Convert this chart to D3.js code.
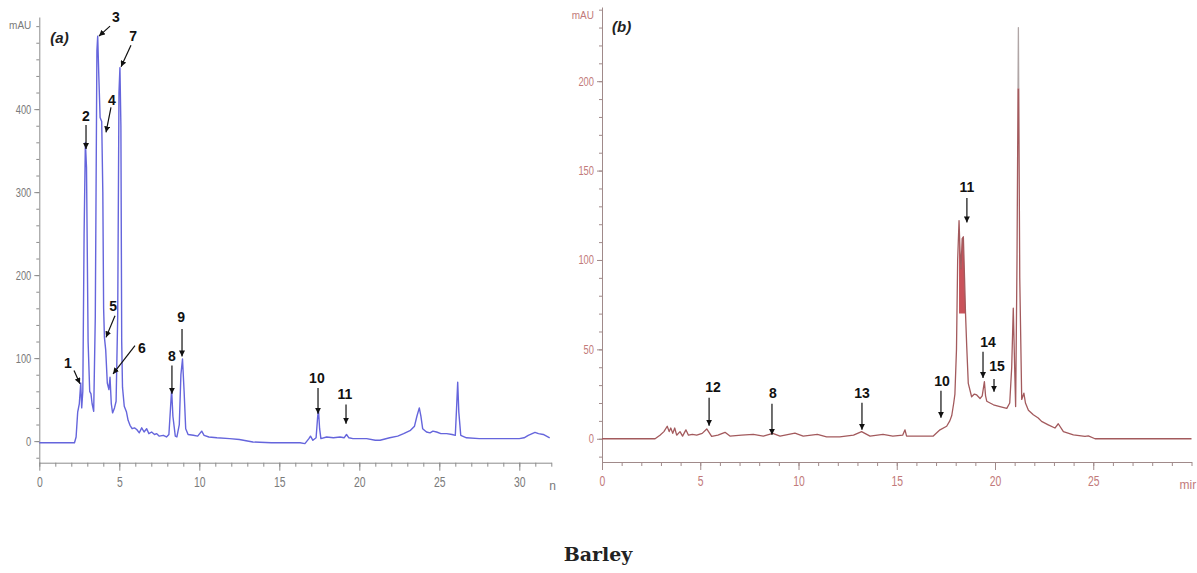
<!DOCTYPE html>
<html>
<head>
<meta charset="utf-8">
<script src="https://d3js.org/d3.v7.min.js"></script>
<style>
body { margin: 0; background: #fff; }
.tick text { font-family: "Liberation Sans Narrow", "Liberation Sans", sans-serif; }
</style>
</head>
<body>
<svg width="1197" height="573"></svg>
<script>
// panel (a) trace: retention time (min) and absorbance (mAU)
var timeA = [0, 2.2, 2.3, 2.4, 2.5, 2.59, 2.65, 2.72, 2.8, 2.88, 2.95, 3.05, 3.15, 3.23, 3.3, 3.4, 3.5, 3.6, 3.65, 3.72,
  3.8, 3.9, 3.97, 4.02, 4.07, 4.15, 4.25, 4.35, 4.42, 4.5, 4.58, 4.7, 4.8, 4.9, 4.98, 5.04, 5.1, 5.15, 5.2, 5.31,
  5.45, 5.55, 5.67, 5.8, 5.95, 6.09, 6.25, 6.4, 6.55, 6.71, 6.85, 7.02, 7.2, 7.34, 7.5, 7.75, 7.95, 8.1, 8.2, 8.27,
  8.35, 8.5, 8.6, 8.75, 8.85, 8.95, 9.05, 9.15, 9.3, 9.63, 9.9, 10.15, 10.3, 10.6, 11.1, 11.9, 12.5, 13.35, 14.5, 16.3,
  16.6, 16.85, 16.95, 17.1, 17.3, 17.4, 17.45, 17.52, 17.6, 17.96, 18.38, 18.8, 19.05, 19.2, 19.35, 19.6, 20.46, 21.0, 21.3, 21.9,
  22.4, 22.77, 23.2, 23.45, 23.6, 23.75, 23.85, 23.96, 24.2, 24.42, 24.6, 24.83, 25.1, 25.46, 25.8, 26.0, 26.08, 26.15, 26.22, 26.34,
  26.7, 27.5, 30.0, 30.3, 30.56, 30.98, 31.2, 31.5, 31.9];
var valA = [-2, -2, 5, 35, 45, 70, 40, 60, 250, 360, 330, 120, 60, 57, 45, 36, 150, 470, 488, 440,
  390, 385, 300, 160, 125, 110, 70, 62, 77, 45, 34, 40, 48, 150, 420, 450, 380, 120, 65, 42,
  35, 25, 19, 15, 16, 14, 10, 16, 11, 15, 9, 11, 8, 9, 6, 7, 5, 8, 40, 62,
  30, 6, 5, 20, 80, 99, 60, 15, 8, 7, 6, 12, 7, 5, 4, 3, 2, -1, -2, -2,
  -3, 3, 6, 1, 4, 30, 37, 15, 3, 5, 4, 5, 4, 8, 4, 3, 3, 1, 1, 4,
  6, 9, 13, 18, 30, 40, 30, 15, 11, 10, 12, 11, 9, 9, 8, 7, 40, 71, 35, 7,
  4, 3, 3, 4, 7, 10.5, 9, 8, 4];

// panel (b) trace
var timeB = [0, 2.7, 2.95, 3.15, 3.32, 3.42, 3.5, 3.6, 3.7, 3.8, 3.97, 4.1, 4.27, 4.4, 4.6, 4.82, 5.1, 5.33, 5.58, 5.9,
  6.26, 6.51, 7.1, 7.7, 8.21, 8.69, 9.06, 9.82, 10.24, 10.96, 11.43, 12.1, 12.8, 13.21, 13.64, 14.3, 14.8, 15.3, 15.42, 15.5,
  16.3, 16.86, 17.2, 17.54, 17.7, 17.8, 17.9, 17.96, 18.04, 18.1, 18.17, 18.22, 18.27, 18.33, 18.39, 18.45, 18.5, 18.56, 18.64, 18.81,
  18.95, 19.07, 19.24, 19.35, 19.46, 19.52, 19.58, 19.92, 20.25, 20.6, 20.75, 20.85, 20.93, 21.0, 21.05, 21.12, 21.19, 21.26, 21.36, 21.47,
  21.55, 21.7, 21.95, 22.2, 22.37, 22.71, 23.05, 23.22, 23.48, 23.99, 24.58, 24.75, 25.09, 30];
var valB = [0, 0, 2, 4, 7, 4, 6, 3, 6, 2, 4, 1.5, 5, 2, 2.5, 2, 3, 5.5, 1.3, 2,
  3.6, 1.5, 2, 2.4, 1.5, 3, 1.5, 3.2, 1.5, 2.4, 1.1, 1.1, 2, 4, 1.5, 2.4, 1.5, 2, 5, 1.5,
  1.5, 1.5, 5, 7, 10, 13, 20, 25, 50, 100, 122, 105, 95, 112, 113, 90, 70, 52, 31, 23.5,
  25, 24.5, 22.5, 24, 32, 24, 21, 19, 18, 17, 20, 40, 73, 40, 18, 100, 230, 90, 22, 25.5,
  20, 16, 13.4, 11.6, 9.7, 7.8, 6, 8.4, 4, 2.2, 1.3, 1.6, 0, 0];

// axis ticks
var majorXA = [0, 5, 10, 15, 20, 25, 30];
var minorXA = d3.range(0, 33, 1);
var majorYA = [0, 100, 200, 300, 400];
var minorYA = d3.range(-20, 511, 20);
var majorXB = [0, 5, 10, 15, 20, 25];
var minorXB = d3.range(0, 31, 1);
var majorYB = [0, 50, 100, 150, 200];
var minorYB = d3.range(-10, 241, 10);

// peak labels: label position, arrow tail, arrow tip (time, mAU)
var annA = [
  ["1", 1.79, 93, 2.17, 85, 2.54, 69],
  ["2", 2.92, 390, 2.92, 381, 2.92, 352],
  ["3", 4.79, 510, 4.42, 500, 3.73, 488],
  ["4", 4.54, 410, 4.48, 402, 4.17, 372],
  ["7", 5.86, 486, 5.73, 477, 5.11, 451],
  ["5", 4.61, 161, 4.73, 151, 4.17, 125],
  ["6", 6.42, 111, 5.98, 115, 4.61, 81],
  ["8", 8.29, 101, 8.29, 91, 8.29, 57],
  ["9", 8.86, 148, 8.92, 135, 8.92, 102],
  ["10", 17.35, 74, 17.42, 64, 17.42, 33],
  ["11", 19.1, 55, 19.17, 44, 19.17, 21]
];
var annB = [
  ["12", 5.65, 28.5, 5.45, 22.9, 5.45, 7.3],
  ["8", 8.7, 24.6, 8.65, 19.6, 8.65, 2.2],
  ["13", 13.23, 24.6, 13.23, 20.1, 13.23, 5],
  ["10", 17.3, 31.8, 17.25, 26.8, 17.25, 11.7],
  ["11", 18.57, 140, 18.57, 134.6, 18.57, 121],
  ["14", 19.64, 53.6, 19.39, 48.6, 19.39, 34],
  ["15", 20.1, 39.7, 19.95, 33.4, 19.95, 26.3]
];

var svg = d3.select("svg");

var defs = svg.append("defs");
defs.append("marker").attr("id", "head")
  .attr("viewBox", "0 0 10 10").attr("refX", 10).attr("refY", 5)
  .attr("markerWidth", 6).attr("markerHeight", 6).attr("markerUnits", "userSpaceOnUse")
  .attr("orient", "auto")
  .append("path").attr("d", "M0,0 L10,5 L0,10 Z").attr("fill", "#111");

function drawPanel(opt) {
  var x = d3.scaleLinear().domain(opt.xdom).range(opt.xrange);
  var y = d3.scaleLinear().domain(opt.ydom).range(opt.yrange);
  var g = svg.append("g");
  var x0 = opt.yrange[0];

  // minor ticks
  g.append("g").attr("transform", "translate(0," + x0 + ")")
    .call(d3.axisBottom(x).tickValues(opt.minorX).tickSize(4).tickSizeOuter(0).tickFormat(""))
    .call(function(s) { s.select(".domain").remove(); });
  g.append("g").attr("transform", "translate(" + x(0) + ",0)")
    .call(d3.axisLeft(y).tickValues(opt.minorY).tickSize(3).tickSizeOuter(0).tickFormat(""))
    .call(function(s) { s.select(".domain").remove(); });

  var ax = g.append("g").attr("transform", "translate(0," + x0 + ")")
    .call(d3.axisBottom(x).tickValues(opt.majorX).tickSize(8).tickSizeOuter(0).tickPadding(7));
  ax.selectAll(".tick text").style("font-size", "13px")
    .attr("transform", "scale(0.8,1.15)").attr("x", 0).attr("y", 12);

  var ay = g.append("g").attr("transform", "translate(" + x(0) + ",0)")
    .call(d3.axisLeft(y).tickValues(opt.majorY).tickSize(5).tickSizeOuter(0).tickPadding(3));
  ay.selectAll(".tick text").style("font-size", "11px").attr("transform", "scale(0.85,1.1)")
    .attr("x", -8 / 0.85).attr("dy", "0.32em");

  g.selectAll(".domain, .tick line").attr("stroke", opt.axisColor);
  g.selectAll(".tick text").attr("fill", opt.labelColor);

  g.append("text").text("mAU").attr("x", x(0) - 8).attr("y", y(opt.ydom[1]) + 12)
    .attr("text-anchor", "end")
    .style("font-family", "Liberation Sans Narrow, Liberation Sans, sans-serif")
    .style("font-size", "10px").attr("fill", opt.labelColor);
  g.append("text").text(opt.unit).attr("x", opt.xrange[1] + opt.unitDx).attr("y", x0 + 27)
    .style("font-family", "Liberation Sans Narrow, Liberation Sans, sans-serif")
    .style("font-size", "12px").attr("fill", opt.labelColor);

  g.append("text").text(opt.tag).attr("x", x(0) + opt.tagDx).attr("y", y(opt.ydom[1]) + opt.tagDy)
    .style("font-family", "Liberation Sans, sans-serif").style("font-style", "italic")
    .style("font-weight", "bold").style("font-size", "15px").attr("fill", "#222");

  return { x: x, y: y, g: g };
}

function drawTrace(p, t, v, color, width, clip) {
  var line = d3.line().x(function(d, i) { return p.x(t[i]); }).y(function(d, i) { return p.y(v[i]); });
  var path = p.g.append("path").datum(v).attr("d", line)
    .attr("fill", "none").attr("stroke", color).attr("stroke-width", width)
    .attr("stroke-linejoin", "round");
  if (clip) path.attr("clip-path", "url(#" + clip + ")");
  return path;
}

function drawAnn(p, ann) {
  ann.forEach(function(a) {
    p.g.append("line")
      .attr("x1", p.x(a[3])).attr("y1", p.y(a[4]))
      .attr("x2", p.x(a[5])).attr("y2", p.y(a[6]))
      .attr("stroke", "#111").attr("stroke-width", 1.2)
      .attr("marker-end", "url(#head)");
    p.g.append("text").text(a[0])
      .attr("x", p.x(a[1])).attr("y", p.y(a[2]))
      .attr("text-anchor", "middle").attr("dominant-baseline", "middle")
      .style("font-family", "Liberation Sans Narrow, Liberation Sans, sans-serif")
      .style("font-weight", "bold").style("font-size", "14px").attr("fill", "#111");
  });
}

// panel (a)
var pa = drawPanel({
  xdom: [0, 32], xrange: [39.3, 551.3], ydom: [-26, 511], yrange: [462.7, 17],
  majorX: majorXA, minorX: minorXA, majorY: majorYA, minorY: minorYA,
  axisColor: "#8c8c8c", labelColor: "#7a7a7a", unit: "n", unitDx: -2,
  tag: "(a)", tagDx: 11, tagDy: 26
});
drawTrace(pa, timeA, valA, "#6565dc", 1.4);
drawAnn(pa, annA);

// panel (b)
var pb = drawPanel({
  xdom: [0, 30], xrange: [602, 1191.5], ydom: [-13, 241.5], yrange: [462, 7],
  majorX: majorXB, minorX: minorXB, majorY: majorYB, minorY: minorYB,
  axisColor: "#a08a8a", labelColor: "#c27a7a", unit: "mir", unitDx: -12,
  tag: "(b)", tagDx: 10, tagDy: 25
});

// split colours on the tallest peak: grey above 196 mAU, dark red below
defs.append("clipPath").attr("id", "lowB").append("rect")
  .attr("x", 590).attr("y", pb.y(196)).attr("width", 620).attr("height", 470 - pb.y(196));
defs.append("clipPath").attr("id", "highB").append("rect")
  .attr("x", 590).attr("y", 0).attr("width", 620).attr("height", pb.y(196));

// red filled double peak near 18.2-18.5 min
var fillIdx = d3.range(timeB.length).filter(function(i) { return timeB[i] >= 18.17 && timeB[i] <= 18.5; });
pb.g.append("path").datum(fillIdx)
  .attr("d", d3.area().x(function(i) { return pb.x(timeB[i]); })
    .y0(pb.y(70)).y1(function(i) { return pb.y(valB[i]); }))
  .attr("fill", "#c9525a");

drawTrace(pb, timeB, valB, "#a35a5d", 1.3, "lowB");
drawTrace(pb, timeB, valB, "#b0a6a6", 1.3, "highB");
drawAnn(pb, annB);

svg.append("text").text("Barley").attr("x", 598).attr("y", 561)
  .attr("text-anchor", "middle")
  .style("font-family", "DejaVu Serif, serif").style("font-weight", "bold")
  .style("font-size", "19px").attr("fill", "#222");
</script>
</body>
</html>
